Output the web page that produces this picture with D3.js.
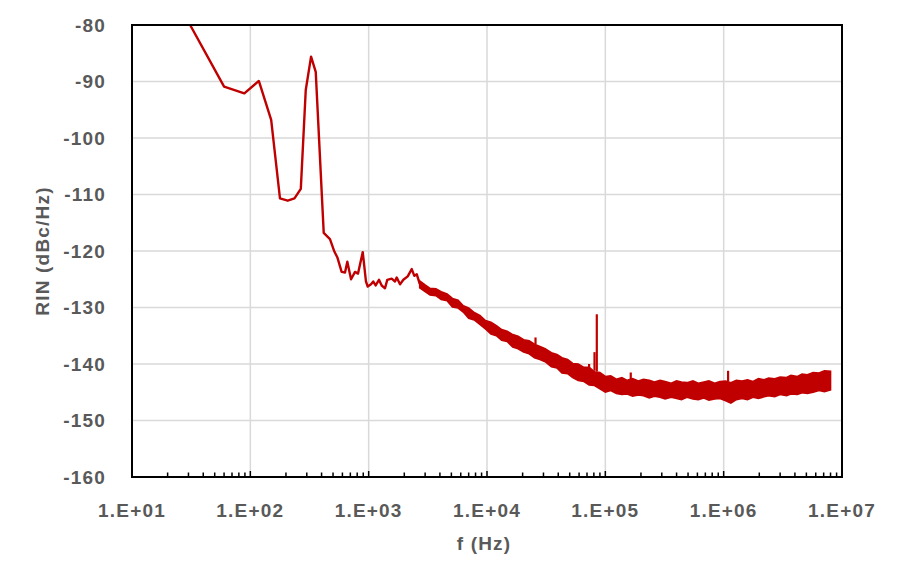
<!DOCTYPE html>
<html>
<head>
<meta charset="utf-8">
<script src="https://cdn.jsdelivr.net/npm/d3@7"></script>
<style>
  body { margin: 0; background: #fff; }
  text { font-family: "Liberation Sans", Arial, sans-serif; font-weight: bold; fill: #595959; letter-spacing: 1.2px; }
</style>
</head>
<body>
<div id="chart"></div>
<script>
// low frequency part (single trace)
const lineFreq = [31, 60, 89, 118, 150, 178, 207, 236, 267, 294, 326, 357, 417, 471, 513, 543, 591, 631, 660, 710,
    767, 813, 891, 949, 982, 1047, 1094, 1146, 1222, 1288, 1374, 1436, 1565, 1670, 1726, 1841, 1963, 2138, 2312,
    2432, 2548, 2700];
const lineRin = [-80, -90.9, -92.1, -89.9, -96.8, -110.7, -111.1, -110.7, -109.0, -91.5, -85.6, -88.3, -116.8, -117.9,
    -120.1, -121.1, -123.7, -123.8, -121.9, -125.0, -123.7, -124.0, -120.2, -125.4, -126.3, -125.9, -125.4, -126.1,
    -125.1, -126.1, -126.6, -125.1, -124.9, -125.4, -124.7, -125.9, -125.1, -124.5, -123.2, -124.4, -124.1, -125.8];

// high frequency part: noisy band, upper and lower edge
const bandFreq = [2700, 3000, 3300, 3700, 4100, 4600, 5100, 5700, 6300, 7000, 7800, 8700, 9700, 10800, 12000, 13300,
    14800, 16500, 18300, 20400, 22700, 25200, 28000, 31000, 35000, 39000, 43000, 48000, 53000, 59000, 66000, 73000,
    81000, 90000, 100000, 111000, 124000, 138000, 153000, 170000, 190000, 210000, 235000, 260000, 290000, 320000,
    360000, 400000, 440000, 490000, 550000, 610000, 680000, 750000, 840000, 930000, 1040000, 1150000, 1280000,
    1430000, 1590000, 1770000, 1970000, 2200000, 2400000, 2700000, 3000000, 3400000, 3700000, 4200000, 4600000,
    5100000, 5700000, 6400000, 7100000, 8000000];
const bandTop = [-125.3, -126.0, -126.6, -126.7, -127.2, -127.6, -128.4, -128.7, -129.7, -130.1, -130.9, -131.4, -132.3,
    -132.6, -133.2, -133.9, -134.2, -134.8, -135.1, -135.7, -135.9, -136.5, -136.9, -137.3, -138.0, -138.3, -138.9,
    -139.2, -139.9, -140.0, -140.6, -140.6, -141.4, -141.5, -142.2, -142.1, -142.7, -142.4, -142.9, -142.6, -143.0,
    -142.7, -142.9, -143.2, -142.9, -143.1, -143.4, -143.0, -143.2, -143.3, -143.0, -143.4, -143.2, -143.0, -143.4,
    -143.1, -143.0, -143.3, -142.9, -143.0, -142.8, -143.1, -142.6, -142.8, -142.5, -142.6, -142.3, -142.4, -142.0,
    -142.2, -141.8, -141.9, -141.5, -141.6, -141.2, -141.3];
const bandBottom = [-126.5, -127.2, -127.8, -127.9, -128.6, -128.8, -129.9, -130.1, -130.8, -131.9, -132.2, -133.0,
    -133.8, -134.7, -135.0, -135.8, -136.0, -137.0, -137.3, -137.9, -138.2, -138.9, -139.2, -139.6, -140.5, -140.7,
    -141.6, -141.7, -142.4, -142.9, -143.1, -143.7, -143.8, -144.4, -145.0, -144.7, -145.2, -145.4, -145.3, -145.7,
    -145.5, -145.6, -146.0, -145.7, -145.9, -146.2, -145.9, -146.1, -146.3, -145.9, -146.2, -146.3, -146.0, -146.4,
    -146.2, -146.1, -146.5, -146.9, -146.3, -146.1, -146.3, -145.9, -146.1, -145.8, -145.6, -145.8, -145.4, -145.6,
    -145.3, -145.4, -145.1, -145.2, -145.0, -144.7, -144.9, -144.6];

// narrow spurs sticking out of the band
const spurFreq = [25700, 72900, 81000, 84700, 164000, 1090000];
const spurBase = [-136.5, -140.8, -141.2, -141.3, -142.8, -143.1];
const spurTop = [-135.3, -140.0, -137.9, -131.2, -141.5, -141.2];

const yTicks = [-80, -90, -100, -110, -120, -130, -140, -150, -160];
const xTicks = [1e1, 1e2, 1e3, 1e4, 1e5, 1e6, 1e7];
const xTickLabels = ["1.E+01", "1.E+02", "1.E+03", "1.E+04", "1.E+05", "1.E+06", "1.E+07"];

const margin = {top: 25, right: 58, bottom: 110, left: 132};
const width = 900 - margin.left - margin.right;
const height = 587 - margin.top - margin.bottom;
const red = "#c00000";

const svg = d3.select("#chart").append("svg")
    .attr("width", 900)
    .attr("height", 587)
    .append("g")
    .attr("transform", `translate(${margin.left}, ${margin.top})`);

const x = d3.scaleLog().domain([1e1, 1e7]).range([0, width]);
const y = d3.scaleLinear().domain([-160, -80]).range([height, 0]);

// grid
svg.append("g").selectAll("line")
    .data(yTicks)
    .join("line")
    .attr("x1", 0).attr("x2", width)
    .attr("y1", d => y(d)).attr("y2", d => y(d))
    .attr("stroke", "#d9d9d9").attr("stroke-width", 1.5);

svg.append("g").selectAll("line")
    .data(xTicks)
    .join("line")
    .attr("x1", d => x(d)).attr("x2", d => x(d))
    .attr("y1", 0).attr("y2", height)
    .attr("stroke", "#d9d9d9").attr("stroke-width", 1.5);

// data
const plot = svg.append("g");

const band = bandFreq.map((f, i) => ({f: f, top: bandTop[i], bot: bandBottom[i]}));
plot.append("path")
    .datum(band)
    .attr("fill", red)
    .attr("stroke", red)
    .attr("stroke-width", 1.6)
    .attr("d", d3.area().x(d => x(d.f)).y0(d => y(d.bot)).y1(d => y(d.top)));

const lineData = lineFreq.map((f, i) => ({f: f, v: lineRin[i]}));
plot.append("path")
    .datum(lineData)
    .attr("fill", "none")
    .attr("stroke", red)
    .attr("stroke-width", 2.4)
    .attr("stroke-linejoin", "round")
    .attr("d", d3.line().x(d => x(d.f)).y(d => y(d.v)));

plot.selectAll("line.spur")
    .data(spurFreq)
    .join("line")
    .attr("class", "spur")
    .attr("x1", d => x(d)).attr("x2", d => x(d))
    .attr("y1", (d, i) => y(spurBase[i]))
    .attr("y2", (d, i) => y(spurTop[i]))
    .attr("stroke", red)
    .attr("stroke-width", 2.2);

// minor / major ticks on the bottom axis (pointing inward)
const minor = [];
for (let e = 1; e < 7; e++) {
    for (let m = 2; m <= 9; m++) minor.push(m * Math.pow(10, e));
}
svg.append("g").selectAll("line")
    .data(minor)
    .join("line")
    .attr("x1", d => x(d)).attr("x2", d => x(d))
    .attr("y1", height).attr("y2", height - 4.5)
    .attr("stroke", "#000").attr("stroke-width", 1.5);

svg.append("g").selectAll("line")
    .data(xTicks)
    .join("line")
    .attr("x1", d => x(d)).attr("x2", d => x(d))
    .attr("y1", height).attr("y2", height - 6)
    .attr("stroke", "#000").attr("stroke-width", 1.5);

// frame
svg.append("rect")
    .attr("x", 0).attr("y", 0)
    .attr("width", width).attr("height", height)
    .attr("fill", "none")
    .attr("stroke", "#000")
    .attr("stroke-width", 2);

// tick labels
svg.append("g").selectAll("text")
    .data(yTicks)
    .join("text")
    .attr("x", -26)
    .attr("y", d => y(d))
    .attr("dy", "0.35em")
    .attr("text-anchor", "end")
    .style("font-size", "19px")
    .text(d => d);

svg.append("g").selectAll("text")
    .data(xTicks)
    .join("text")
    .attr("x", d => x(d))
    .attr("y", height + 40)
    .attr("text-anchor", "middle")
    .style("font-size", "19px")
    .text((d, i) => xTickLabels[i]);

// axis titles
svg.append("text")
    .attr("x", x(1e4) - 3)
    .attr("y", height + 73)
    .attr("text-anchor", "middle")
    .style("font-size", "19px")
    .text("f (Hz)");

svg.append("text")
    .attr("transform", `translate(${42 - margin.left}, ${251 - margin.top}) rotate(-90)`)
    .attr("dy", "0.35em")
    .attr("text-anchor", "middle")
    .style("font-size", "19px")
    .text("RIN (dBc/Hz)");
</script>
</body>
</html>
